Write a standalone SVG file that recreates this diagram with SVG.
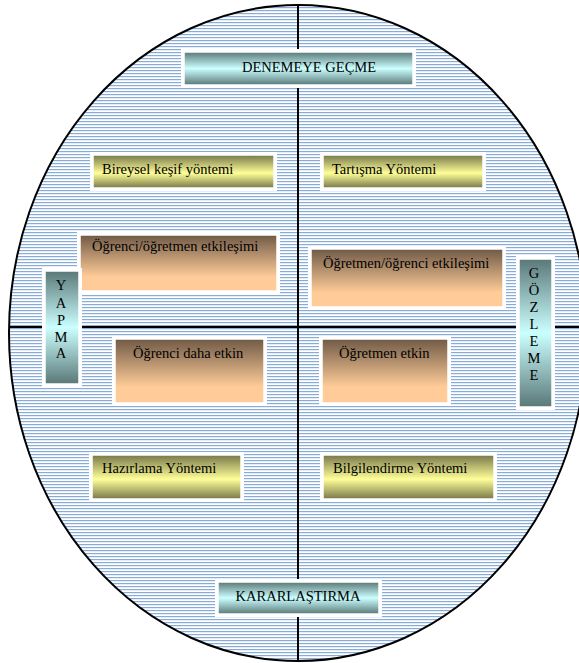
<svg xmlns="http://www.w3.org/2000/svg" width="579" height="663" viewBox="0 0 579 663">
<defs>
<pattern id="hatch" patternUnits="userSpaceOnUse" width="6" height="3">
<rect x="0" y="0" width="6" height="3" fill="#ffffff"/>
<rect x="0" y="1" width="6" height="1.2" fill="#88acd8"/>
</pattern>
<linearGradient id="teal" x1="0" y1="0" x2="0" y2="1">
<stop offset="0" stop-color="#5a7878"/>
<stop offset="0.5" stop-color="#ccffff"/>
<stop offset="1" stop-color="#5a7878"/>
</linearGradient>
<linearGradient id="yellow" x1="0" y1="0" x2="0" y2="1">
<stop offset="0" stop-color="#78784a"/>
<stop offset="0.55" stop-color="#ffff99"/>
<stop offset="1" stop-color="#78784a"/>
</linearGradient>
<linearGradient id="brown" x1="0" y1="0" x2="0" y2="1">
<stop offset="0" stop-color="#705a46"/>
<stop offset="0.75" stop-color="#ffcc99"/>
<stop offset="1" stop-color="#ffcc99"/>
</linearGradient>
<style>
.pad{fill:#ffffff}
.box{stroke:#ffffff;stroke-width:1.5}
.t{font-family:"Liberation Serif","Times New Roman",serif;font-size:14.5px;fill:#000000}
.c{text-anchor:middle}
.ln{stroke:#000000;stroke-width:2;fill:none}
</style>
</defs>
<rect width="579" height="663" fill="#ffffff"/>
<ellipse cx="298" cy="333" rx="289" ry="328" fill="url(#hatch)" stroke="#000000" stroke-width="2"/>
<g id="connectors">
<line class="ln" x1="298" y1="5" x2="298" y2="661"/>
<line class="ln" x1="10" y1="327" x2="579" y2="327"/>
</g>
<g id="denemeye">
<rect class="pad" x="181" y="49" width="235" height="39"/>
<rect class="box" x="184" y="52" width="229" height="33" fill="url(#teal)"/>
<text class="t c" x="309" y="72">DENEMEYE GEÇME</text>
</g>
<g id="bireysel">
<rect class="pad" x="90" y="152" width="187" height="39"/>
<rect class="box" x="93" y="155" width="181" height="33" fill="url(#yellow)"/>
<text class="t" x="102" y="174">Bireysel keşif yöntemi</text>
</g>
<g id="tartisma">
<rect class="pad" x="320" y="152" width="166" height="39"/>
<rect class="box" x="323" y="155" width="160" height="33" fill="url(#yellow)"/>
<text class="t" x="332" y="174">Tartışma Yöntemi</text>
</g>
<g id="ogrenci-ogretmen">
<rect class="pad" x="77" y="232" width="203" height="62"/>
<rect class="box" x="80" y="235" width="197" height="56" fill="url(#brown)"/>
<text class="t" x="92" y="251">Öğrenci/öğretmen etkileşimi</text>
</g>
<g id="ogretmen-ogrenci">
<rect class="pad" x="308" y="246" width="198" height="64"/>
<rect class="box" x="311" y="249" width="192" height="58" fill="url(#brown)"/>
<text class="t" x="323" y="268">Öğretmen/öğrenci etkileşimi</text>
</g>
<g id="yapma">
<rect class="pad" x="42" y="268" width="40" height="119"/>
<rect class="box" x="45" y="271" width="34" height="113" fill="url(#teal)"/>
<text class="t c" x="61" y="290">Y</text>
<text class="t c" x="61" y="308">A</text>
<text class="t c" x="61" y="325">P</text>
<text class="t c" x="61" y="342">M</text>
<text class="t c" x="61" y="358">A</text>
</g>
<g id="gozleme">
<rect class="pad" x="516" y="256" width="39" height="154"/>
<rect class="box" x="519" y="259" width="33" height="148" fill="url(#teal)"/>
<text class="t c" x="534" y="278">G</text>
<text class="t c" x="534" y="295">Ö</text>
<text class="t c" x="534" y="312">Z</text>
<text class="t c" x="534" y="329">L</text>
<text class="t c" x="534" y="346">E</text>
<text class="t c" x="534" y="363">M</text>
<text class="t c" x="534" y="380">E</text>
</g>
<g id="ogrenci-etkin">
<rect class="pad" x="112" y="336" width="155" height="70"/>
<rect class="box" x="115" y="339" width="149" height="64" fill="url(#brown)"/>
<text class="t" x="133" y="358">Öğrenci daha etkin</text>
</g>
<g id="ogretmen-etkin">
<rect class="pad" x="319" y="336" width="132" height="70"/>
<rect class="box" x="322" y="339" width="126" height="64" fill="url(#brown)"/>
<text class="t" x="339" y="358">Öğretmen etkin</text>
</g>
<g id="hazirlama">
<rect class="pad" x="89" y="452" width="155" height="50"/>
<rect class="box" x="92" y="455" width="149" height="44" fill="url(#yellow)"/>
<text class="t" x="102" y="473">Hazırlama Yöntemi</text>
</g>
<g id="bilgilendirme">
<rect class="pad" x="320" y="452" width="177" height="50"/>
<rect class="box" x="323" y="455" width="171" height="44" fill="url(#yellow)"/>
<text class="t" x="333" y="473">Bilgilendirme Yöntemi</text>
</g>
<g id="kararlastirma">
<rect class="pad" x="215" y="579" width="167" height="38"/>
<rect class="box" x="218" y="582" width="161" height="32" fill="url(#teal)"/>
<text class="t c" x="298" y="601">KARARLAŞTIRMA</text>
</g>
</svg>
